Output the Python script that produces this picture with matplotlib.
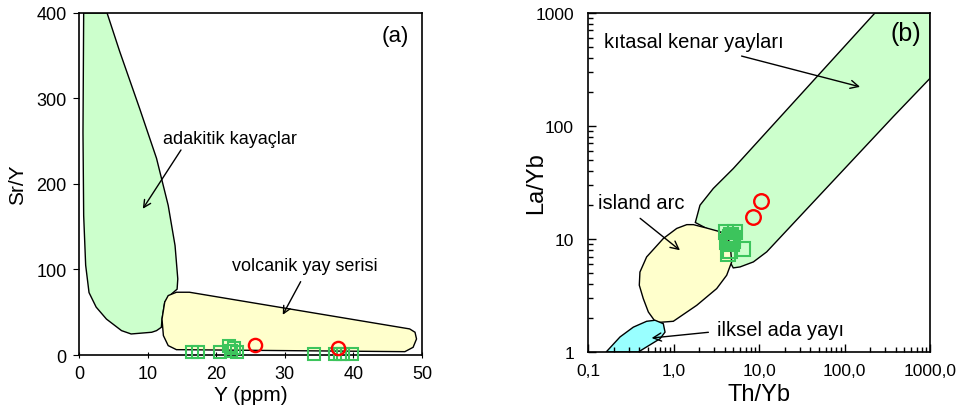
import matplotlib.pyplot as plt
from matplotlib.patches import Polygon

plt.rcParams['font.family'] = ['Liberation Sans', 'DejaVu Sans']

# --- (a) Sr/Y vs Y fields ---
adakite_x = [0.68, 4.09, 5.93, 8.85, 11.3, 13.0, 14.0, 14.4, 14.3, 13.5, 12.5, 12.1, 12.0,
             11.3, 10.6, 7.6, 6.2, 4.0, 2.5, 1.46, 0.97, 0.68, 0.58]
adakite_y = [400, 400, 355, 288, 230, 175, 128, 89, 77, 71.5, 62, 42, 32.4,
             28.5, 26.6, 24.6, 28.5, 42, 56, 73, 105, 163, 260]
arc_x = [13.0, 14.2, 16.1, 48.2, 48.98, 49.2, 48.7, 47.5, 14.2, 13.0, 12.3, 12.1, 12.5]
arc_y = [69.5, 73.4, 73.4, 30.5, 26.6, 18.75, 9, 3.9, 6.25, 11, 22.7, 42, 62]

# samples (a)
sq_a_y = [16.4, 17.4, 20.6, 21.8, 22.2, 22.6, 23.0, 34.2, 37.3, 38.0, 38.5, 39.8]
sq_a_sry = [3, 3, 3.5, 10, 5, 8, 3, 1.5, 1.5, 1.5, 1.5, 1.5]
ci_a_y = [25.7, 37.8]
ci_a_sry = [11.7, 7.8]

# --- (b) La/Yb vs Th/Yb fields ---
cont_x = [1.80, 2.04, 2.92, 5.0, 227, 1000, 1000, 372, 12.3, 8.6, 6.0, 5.0, 4.58, 3.2, 2.44]
cont_y = [14.0, 19.9, 28, 42, 1000, 1000, 264, 121, 7.69, 6.27, 5.66, 5.55, 6.27, 10.8, 12.4]
island_x = [1.43, 1.09, 0.76, 0.485, 0.405, 0.398, 0.443, 0.508, 0.624, 0.995, 1.87, 3.2,
            4.19, 4.79, 4.58, 3.5, 2.44, 1.71]
island_y = [13.4, 12.4, 10.1, 6.94, 5.1, 3.9, 2.97, 2.26, 1.82, 1.87, 2.59, 3.64,
            4.78, 6.27, 9.4, 11.6, 12.5, 13.4]
prim_x = [0.163, 0.237, 0.339, 0.485, 0.608, 0.76, 0.796, 0.695, 0.485, 0.388]
prim_y = [1.0, 1.36, 1.66, 1.87, 1.91, 1.78, 1.50, 1.31, 1.11, 1.0]

# samples (b)
sq_b_th = [4.07, 5.24, 4.58, 4.19, 4.8, 6.55, 4.38, 4.58, 4.7, 4.9, 4.4, 5.0]
sq_b_la = [11.5, 11.5, 10.4, 9.35, 9.0, 8.2, 7.37, 7.87, 10.8, 9.6, 10.0, 10.2]
ci_b_th = [10.5, 8.4]
ci_b_la = [21.6, 15.7]

xt_b = [0.1, 1, 10, 100, 1000]
xt_b_labels = ['0,1', '1,0', '10,0', '100,0', '1000,0']
yt_b = [1, 10, 100, 1000]
yt_b_labels = ['1', '10', '100', '1000']

GREEN = '#ccffcc'
YELLOW = '#ffffcc'
CYAN = '#99ffff'
SQ = '#3cc45c'

fig = plt.figure(figsize=(9.6, 4.1), dpi=100)
ax1 = fig.add_axes([0.0823, 0.1317, 0.3573, 0.8342])
ax2 = fig.add_axes([0.6125, 0.139, 0.35625, 0.8269])

# panel a
ax1.add_patch(Polygon(list(zip(adakite_x, adakite_y)), closed=True,
                      facecolor=GREEN, edgecolor='black', lw=1))
ax1.add_patch(Polygon(list(zip(arc_x, arc_y)), closed=True,
                      facecolor=YELLOW, edgecolor='black', lw=1))
ax1.plot(sq_a_y, sq_a_sry, 's', ms=8.5, mfc='none', mec=SQ, mew=1.5, clip_on=False, zorder=5)
ax1.plot(ci_a_y, ci_a_sry, 'o', ms=9.5, mfc='none', mec='red', mew=1.7, clip_on=False, zorder=6)
ax1.set_xlim(0, 50)
ax1.set_ylim(0, 400)
ax1.set_xticks([0, 10, 20, 30, 40, 50])
ax1.set_yticks([0, 100, 200, 300, 400])
ax1.tick_params(axis='y', direction='out', length=4, labelsize=13, pad=5)
ax1.tick_params(axis='x', direction='inout', length=4, labelsize=13, pad=5)
ax1.set_xlabel('Y (ppm)', fontsize=15)
ax1.set_ylabel('Sr/Y', fontsize=15)
ax1.xaxis.set_label_coords(0.5, -0.088)
ax1.yaxis.set_label_coords(-0.152, 0.5)
ax1.text(46.1, 374, '(a)', fontsize=16, ha='center', va='center')
ax1.annotate('adakitik kayaçlar', xy=(9.3, 171), xytext=(12.2, 253), fontsize=13,
             va='center', ha='left',
             arrowprops=dict(arrowstyle='->', color='black', lw=1,
                             shrinkA=0, shrinkB=0, relpos=(0.15, 0)))
ax1.annotate('volcanik yay serisi', xy=(29.7, 47), xytext=(22.3, 104.7), fontsize=13,
             va='center', ha='left',
             arrowprops=dict(arrowstyle='->', color='black', lw=1,
                             shrinkA=4, shrinkB=0, relpos=(0.5, 0)))

# panel b
ax2.set_xscale('log')
ax2.set_yscale('log')
ax2.add_patch(Polygon(list(zip(cont_x, cont_y)), closed=True,
                      facecolor=GREEN, edgecolor='black', lw=1))
ax2.add_patch(Polygon(list(zip(island_x, island_y)), closed=True,
                      facecolor=YELLOW, edgecolor='black', lw=1))
ax2.add_patch(Polygon(list(zip(prim_x, prim_y)), closed=True,
                      facecolor=CYAN, edgecolor='black', lw=1))
ax2.plot(sq_b_th, sq_b_la, 's', ms=10, mfc='none', mec=SQ, mew=1.5, zorder=5)
ax2.plot(ci_b_th, ci_b_la, 'o', ms=10.5, mfc='none', mec='red', mew=1.7, zorder=6)
ax2.set_xlim(0.1, 1000)
ax2.set_ylim(1, 1000)
ax2.set_xticks(xt_b)
ax2.set_xticklabels(xt_b_labels)
ax2.set_yticks(yt_b)
ax2.set_yticklabels(yt_b_labels)
ax2.tick_params(which='major', direction='in', length=6, width=1, labelsize=12.5)
ax2.tick_params(which='minor', direction='in', length=3.5, width=1)
ax2.tick_params(axis='x', pad=8)
ax2.tick_params(axis='y', pad=10)
ax2.set_xlabel('Th/Yb', fontsize=17)
ax2.set_ylabel('La/Yb', fontsize=17)
ax2.xaxis.set_label_coords(0.5, -0.091)
ax2.yaxis.set_label_coords(-0.12, 0.5)
ax2.text(523, 660, '(b)', fontsize=18, ha='center', va='center')
ax2.annotate('kıtasal kenar yayları', xy=(152, 222), xytext=(0.155, 557), fontsize=14.5,
             va='center', ha='left',
             arrowprops=dict(arrowstyle='->', color='black', lw=1,
                             shrinkA=6, shrinkB=0, relpos=(0.66, 0)))
ax2.annotate('island arc', xy=(1.19, 7.95), xytext=(0.13, 21), fontsize=14.5,
             va='center', ha='left',
             arrowprops=dict(arrowstyle='->', color='black', lw=1,
                             shrinkA=4, shrinkB=0, relpos=(0.4, 0)))
ax2.annotate('ilksel ada yayı', xy=(0.555, 1.33), xytext=(3.2, 1.58), fontsize=14.5,
             va='center', ha='left',
             arrowprops=dict(arrowstyle='->', color='black', lw=1,
                             shrinkA=4, shrinkB=0, relpos=(0, 0.4)))

for ax in (ax1, ax2):
    for s in ax.spines.values():
        s.set_linewidth(1.2)

fig.savefig('out.png', dpi=100)
